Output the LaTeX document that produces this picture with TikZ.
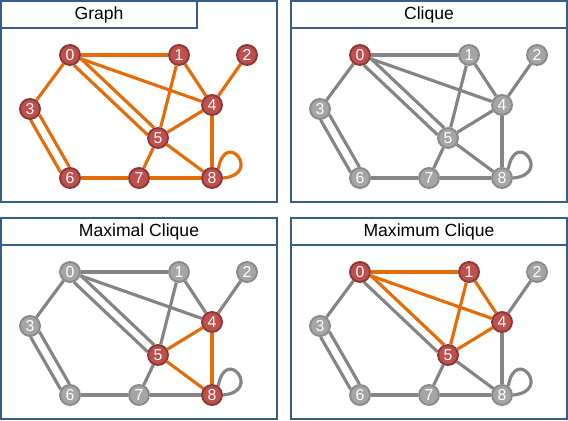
\documentclass[tikz,border=0pt]{standalone}
\usepackage{fontspec}
\setmainfont{Liberation Sans}
\usetikzlibrary{backgrounds}
\definecolor{nodered}{HTML}{C0504D}
\definecolor{nodedark}{HTML}{8C3836}
\definecolor{nodegray}{HTML}{A5A5A5}
\definecolor{nodegrayline}{HTML}{8A8A8A}
\definecolor{edgeorange}{HTML}{E46C0A}
\definecolor{edgegray}{HTML}{858585}
\definecolor{frameblue}{HTML}{385D8A}
\begin{document}
\begin{tikzpicture}[x=0.03cm,y=0.03cm,
    vred/.style={circle,draw=nodedark,fill=nodered,line width=1.6pt,minimum size=0.6cm,inner sep=0pt,text=white,font=\fontsize{13.5}{14}\selectfont},
    vgray/.style={vred,draw=nodegrayline,fill=nodegray},
    hot/.style={draw=edgeorange,line width=2.7pt},
    cold/.style={draw=edgegray,line width=2.7pt},
    panelframe/.style={draw=frameblue,line width=1pt},
    titlebox/.style={draw=frameblue,line width=1.7pt,fill=white,minimum height=0.81cm,font=\fontsize{15}{17}\selectfont},
    n0/.style=vgray, n1/.style=vgray, n2/.style=vgray, n3/.style=vgray, n4/.style=vgray,
    n5/.style=vgray, n6/.style=vgray, n7/.style=vgray, n8/.style=vgray]
  \useasboundingbox (0,0) rectangle (568,420);
  \def\nodelist{0/70/365,1/179/365,2/247/365,3/30/311,4/212/315,5/158/282,6/70/242,7/139/242,8/212/242}

  % Graph
  \begin{scope}[n0/.style=vred,n1/.style=vred,n2/.style=vred,n3/.style=vred,n4/.style=vred,
      n5/.style=vred,n6/.style=vred,n7/.style=vred,n8/.style=vred]
    \draw[panelframe] (1,218) rectangle (277,419);
    \node[titlebox,minimum width=5.88cm] (gtitle) at (99,405.5) {Graph};
    \foreach \i/\x/\y in \nodelist \node[n\i] (g\i) at (\x,\y) {\i};
    \begin{scope}[on background layer]
      \foreach \a/\b in {0/1,0/3,0/4,1/4,1/5,2/4,4/5,4/8,5/7,5/8,6/7,7/8}
        \draw[hot] (g\a) -- (g\b);
      \draw[hot] (g0.-17) -- (g5.111);
      \draw[hot] (g0.-69) -- (g5.163);
      \draw[hot] (g3.-31) -- (g6.93);
      \draw[hot] (g3.-87) -- (g6.149);
      \draw[hot] (g8.55) .. controls +(80:42) and +(5:40) .. (g8.0);
    \end{scope}
  \end{scope}

  % Clique
  \begin{scope}[shift={(290,0)},n0/.style=vred]
    \draw[panelframe] (1,218) rectangle (277,419);
    \node[titlebox,minimum width=8.28cm] (ctitle) at (139,405.5) {Clique};
    \foreach \i/\x/\y in \nodelist \node[n\i] (c\i) at (\x,\y) {\i};
    \begin{scope}[on background layer]
      \foreach \a/\b in {0/1,0/3,0/4,1/4,1/5,2/4,4/5,4/8,5/7,5/8,6/7,7/8}
        \draw[cold] (c\a) -- (c\b);
      \draw[cold] (c0.-17) -- (c5.111);
      \draw[cold] (c0.-69) -- (c5.163);
      \draw[cold] (c3.-31) -- (c6.93);
      \draw[cold] (c3.-87) -- (c6.149);
      \draw[cold] (c8.55) .. controls +(80:42) and +(5:40) .. (c8.0);
    \end{scope}
  \end{scope}

  % Maximal Clique
  \begin{scope}[shift={(0,-217)},n4/.style=vred,n5/.style=vred,n8/.style=vred]
    \draw[panelframe] (1,218) rectangle (277,419);
    \node[titlebox,minimum width=8.28cm] (mtitle) at (139,405.5) {Maximal Clique};
    \foreach \i/\x/\y in \nodelist \node[n\i] (m\i) at (\x,\y) {\i};
    \begin{scope}[on background layer]
      \foreach \a/\b in {0/1,0/3,0/4,1/4,1/5,2/4,5/7,6/7,7/8}
        \draw[cold] (m\a) -- (m\b);
      \draw[cold] (m0.-17) -- (m5.111);
      \draw[cold] (m0.-69) -- (m5.163);
      \draw[cold] (m3.-31) -- (m6.93);
      \draw[cold] (m3.-87) -- (m6.149);
      \draw[cold] (m8.55) .. controls +(80:42) and +(5:40) .. (m8.0);
      \foreach \a/\b in {4/5,4/8,5/8}
        \draw[hot] (m\a) -- (m\b);
    \end{scope}
  \end{scope}

  % Maximum Clique
  \begin{scope}[shift={(290,-217)},n0/.style=vred,n1/.style=vred,n4/.style=vred,n5/.style=vred]
    \draw[panelframe] (1,218) rectangle (277,419);
    \node[titlebox,minimum width=8.28cm] (xtitle) at (139,405.5) {Maximum Clique};
    \foreach \i/\x/\y in \nodelist \node[n\i] (x\i) at (\x,\y) {\i};
    \begin{scope}[on background layer]
      \foreach \a/\b in {0/3,2/4,4/8,5/7,5/8,6/7,7/8}
        \draw[cold] (x\a) -- (x\b);
      \draw[cold] (x0.-69) -- (x5.163);
      \draw[cold] (x3.-31) -- (x6.93);
      \draw[cold] (x3.-87) -- (x6.149);
      \draw[cold] (x8.55) .. controls +(80:42) and +(5:40) .. (x8.0);
      \foreach \a/\b in {0/1,0/4,1/4,1/5,4/5}
        \draw[hot] (x\a) -- (x\b);
      \draw[hot] (x0.-17) -- (x5.111);
    \end{scope}
  \end{scope}
\end{tikzpicture}
\end{document}
